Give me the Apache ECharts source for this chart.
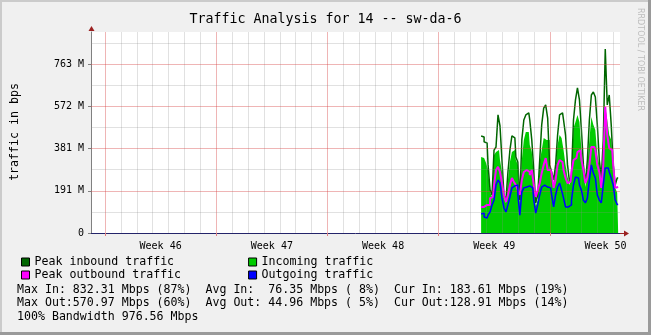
<!DOCTYPE html>
<html>
<head>
<meta charset="utf-8">
<script src="https://cdn.jsdelivr.net/npm/echarts@6/dist/echarts.min.js"></script>
<style>
  html, body { margin: 0; padding: 0; background: #f0f0f0; }
  #chart { width: 651px; height: 335px; }
</style>
</head>
<body>
<div id="chart"></div>
<script>
// ---- data (values in Mbps, 3-hour samples) ----
const sampleStartDay = 23.67;     // days since start of Week 46
const sampleStepDays = 0.125;     // 3 hours
const peakIn = [439,434,412,407,308,195,172,375,389,534,484,330,172,149,276,375,439,430,344,320,149,421,511,534,543,511,421,285,136,172,330,489,565,579,520,308,276,240,308,443,534,543,511,443,308,231,262,511,602,656,602,466,308,226,330,511,624,638,615,489,330,249,421,832.31,579,624,489,308,217,249];
const incoming = [344,339,339,317,285,185,163,353,366,375,330,276,158,136,240,321,366,375,330,308,136,330,421,457,457,398,366,262,122,149,321,375,430,421,421,294,258,217,294,398,443,430,375,308,253,217,249,475,502,534,502,375,285,208,308,421,525,489,466,353,308,240,398,570,511,443,421,285,204,183.61];
const peakOut = [118,118,118,127,127,158,163,217,285,299,276,226,172,140,172,217,249,231,217,194,172,240,276,285,276,262,285,217,163,194,226,271,308,339,285,285,271,204,240,308,330,321,285,249,226,231,276,330,339,366,375,330,285,226,249,308,389,389,375,308,276,204,308,570.97,443,384,375,308,204,208];
const outgoing = [86,90,72,68,81,95,127,149,217,240,226,158,113,95,127,163,204,213,217,172,81,185,204,208,213,217,204,149,90,127,172,208,217,208,217,204,172,118,172,208,226,194,158,118,118,127,149,217,253,249,217,194,149,136,158,240,308,271,249,172,149,136,217,294,294,276,249,217,149,128.91];

const seriesNames = ['Peak inbound traffic', 'Incoming traffic', 'Peak outbound traffic', 'Outgoing traffic'];
const seriesColors = ['#006600', '#00cc00', '#ff00ff', '#0000ff'];

const weekNumbers = [46, 47, 48, 49, 50];
const weekStartDays = [0, 7, 14, 21, 28];
const yMajorStep = 190.7349;
const yTickLabels = ['0', '191 M', '381 M', '572 M', '763 M'];
const statLines = [
  'Max In: 832.31 Mbps (87%)  Avg In:  76.35 Mbps ( 8%)  Cur In: 183.61 Mbps (19%)',
  'Max Out:570.97 Mbps (60%)  Avg Out: 44.96 Mbps ( 5%)  Cur Out:128.91 Mbps (14%)',
  '100% Bandwidth 976.56 Mbps'
];
const titleText = 'Traffic Analysis for 14 -- sw-da-6';

// ---- build ----
const MONO = '"DejaVu Sans Mono", "Liberation Mono", monospace';
function pairs(arr) { return arr.map((v, i) => [sampleStartDay + i * sampleStepDays, v]); }

const xMin = -0.881, xMax = 32.41, yMax = 909;

// grid lines (drawn on top, semi-transparent like rrdtool)
const gridLines = [];
const minorCol = 'rgba(140,140,140,0.26)';
const majorCol = 'rgba(215,70,70,0.40)';
for (let d = 0; d <= Math.floor(xMax); d++) {
  const major = weekStartDays.indexOf(d) >= 0;
  gridLines.push({ xAxis: d, lineStyle: { color: major ? majorCol : minorCol, width: 1, type: 'solid' } });
}
for (let k = 1; k * yMajorStep / 2 < yMax; k++) {
  gridLines.push({ yAxis: k * yMajorStep / 2, lineStyle: { color: k % 2 === 0 ? majorCol : minorCol, width: 1, type: 'solid' } });
}

const chart = echarts.init(document.getElementById('chart'), null, { renderer: 'canvas' });
const legendText = { fontFamily: MONO, fontSize: 11.6, color: '#000' };
chart.setOption({
  animation: false,
  backgroundColor: '#f0f0f0',
  title: {
    text: titleText, left: 'center', top: 8,
    textStyle: { fontFamily: MONO, fontSize: 13.3, fontWeight: 'normal', color: '#000' }
  },
  legend: [
    { data: [seriesNames[0], seriesNames[1]], left: 16, top: 251, orient: 'horizontal',
      itemWidth: 8, itemHeight: 8, itemGap: 74, icon: 'rect', textStyle: legendText,
      itemStyle: { borderColor: '#000', borderWidth: 1 }, selectedMode: false },
    { data: [seriesNames[2], seriesNames[3]], left: 16, top: 264, orient: 'horizontal',
      itemWidth: 8, itemHeight: 8, itemGap: 67, icon: 'rect', textStyle: legendText,
      itemStyle: { borderColor: '#000', borderWidth: 1 }, selectedMode: false }
  ],
  grid: { left: 91, top: 32, width: 529, height: 201, show: true, backgroundColor: '#ffffff', borderWidth: 0 },
  xAxis: {
    type: 'value', min: xMin, max: xMax,
    axisLine: { show: true, onZero: false, lineStyle: { color: '#24246a', width: 1 } },
    axisTick: { show: true, customValues: weekStartDays, length: 3, lineStyle: { color: '#e08080' } },
    splitLine: { show: false },
    axisLabel: {
      customValues: weekStartDays.map(d => d + 3.5),
      formatter: v => 'Week ' + weekNumbers[Math.round((v - 3.5) / 7)],
      fontFamily: MONO, fontSize: 10, color: '#000', margin: 8
    }
  },
  yAxis: {
    type: 'value', min: 0, max: yMax,
    axisLine: { show: true, onZero: false, lineStyle: { color: '#808080', width: 1 } },
    axisTick: { show: true, customValues: yTickLabels.map((_, i) => i * yMajorStep), length: 3, lineStyle: { color: '#808080' } },
    splitLine: { show: false },
    axisLabel: {
      customValues: yTickLabels.map((_, i) => i * yMajorStep),
      formatter: v => yTickLabels[Math.round(v / yMajorStep)],
      fontFamily: MONO, fontSize: 10, color: '#000', margin: 7
    }
  },
  series: [
    { name: seriesNames[1], type: 'line', step: 'middle', data: pairs(incoming), symbol: 'none',
      itemStyle: { color: seriesColors[1] }, lineStyle: { width: 0, color: seriesColors[1] },
      areaStyle: { color: seriesColors[1], opacity: 1 }, z: 2 },
    { name: seriesNames[0], type: 'line', step: 'middle', data: pairs(peakIn), symbol: 'none',
      itemStyle: { color: seriesColors[0] }, lineStyle: { width: 1.5, color: seriesColors[0] }, z: 3 },
    { name: seriesNames[2], type: 'line', step: 'middle', data: pairs(peakOut), symbol: 'none',
      itemStyle: { color: seriesColors[2] }, lineStyle: { width: 2, color: seriesColors[2] }, z: 4 },
    { name: seriesNames[3], type: 'line', step: 'middle', data: pairs(outgoing), symbol: 'none',
      itemStyle: { color: seriesColors[3] }, lineStyle: { width: 1.5, color: seriesColors[3] }, z: 5 },
    { name: 'grid', type: 'line', data: [], z: 10, silent: true,
      markLine: { silent: true, symbol: ['none', 'none'], animation: false, label: { show: false },
        data: gridLines } }
  ],
  graphic: [
    { type: 'line', shape: { x1: 0, y1: 1, x2: 651, y2: 1 }, style: { stroke: '#cbcbcb', lineWidth: 2 }, silent: true },
    { type: 'line', shape: { x1: 1, y1: 0, x2: 1, y2: 335 }, style: { stroke: '#cbcbcb', lineWidth: 2 }, silent: true },
    { type: 'line', shape: { x1: 0, y1: 333.5, x2: 651, y2: 333.5 }, style: { stroke: '#9a9a9a', lineWidth: 3 }, silent: true },
    { type: 'line', shape: { x1: 649.5, y1: 0, x2: 649.5, y2: 335 }, style: { stroke: '#9a9a9a', lineWidth: 3 }, silent: true },
    // axis arrows
    { type: 'line', shape: { x1: 620, y1: 233.5, x2: 625, y2: 233.5 }, style: { stroke: '#9b2020', lineWidth: 1 }, silent: true, z: 20 },
    { type: 'polygon', shape: { points: [[624, 230.5], [629, 233.5], [624, 236.5]] }, style: { fill: '#9b2020' }, silent: true, z: 20 },
    { type: 'polygon', shape: { points: [[88.5, 31], [91.5, 26], [94.5, 31]] }, style: { fill: '#9b2020' }, silent: true, z: 20 },
    // y axis title
    { type: 'text', x: 15, y: 132, rotation: Math.PI / 2,
      style: { text: 'traffic in bps', align: 'center', verticalAlign: 'middle', fill: '#000', font: '11.6px ' + MONO } },
    // side credit
    { type: 'text', x: 640, y: 8, rotation: -Math.PI / 2,
      style: { text: 'RRDTOOL / TOBI OETIKER', align: 'left', verticalAlign: 'middle', fill: '#bcbcbc', font: '8px "DejaVu Sans", sans-serif' } },
    // statistics
    ...statLines.map((t, i) => ({ type: 'text', x: 17, y: [289.5, 302.8, 317][i],
      style: { text: t, align: 'left', verticalAlign: 'middle', fill: '#000', font: '11.6px ' + MONO } }))
  ]
});
</script>
</body>
</html>
